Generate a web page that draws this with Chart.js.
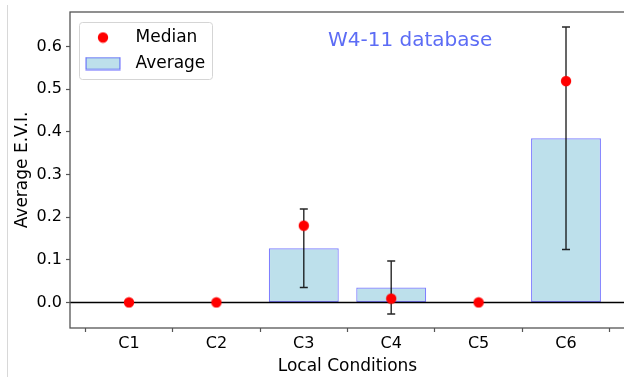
<!DOCTYPE html>
<html>
<head>
<meta charset="utf-8">
<script src="https://cdn.jsdelivr.net/npm/chart.js@4/dist/chart.umd.min.js"></script>
<style>
  html, body { margin: 0; padding: 0; background: #fff; overflow: hidden; }
  #wrap { position: relative; width: 624px; height: 377px; overflow: hidden; }
  #edge { position: absolute; left: 7px; top: 5px; width: 1px; height: 372px; background: #d8d8d8; }
  #chart { position: absolute; left: 0; top: 0; }
</style>
</head>
<body>
<div id="wrap">
  <div id="edge"></div>
  <canvas id="chart" width="640" height="377"></canvas>
</div>
<script>
// local conditions and the E.V.I. statistics per condition
const categories = ['C1', 'C2', 'C3', 'C4', 'C5', 'C6'];
const averages = [0, 0, 0.127, 0.035, 0, 0.385];
const errors = [0, 0, 0.092, 0.062, 0, 0.261];
const medians = [0, 0, 0.180, 0.009, 0, 0.519];
const yTicks = [0, 0.1, 0.2, 0.3, 0.4, 0.5, 0.6];

const FONT = 'DejaVu Sans';
const SPINE = '#555';

// little swatches for the legend entries
const makeSwatch = (w, h, draw) => {
    const c = document.createElement('canvas');
    c.width = w; c.height = h;
    draw(c.getContext('2d'));
    return c;
};
const dotSwatch = makeSwatch(12, 12, g => {
    g.fillStyle = '#ff0000';
    g.beginPath(); g.arc(6, 6, 5.2, 0, Math.PI * 2); g.fill();
});
const rectSwatch = makeSwatch(36, 14, g => {
    g.fillStyle = 'rgba(173,216,230,0.8)';
    g.fillRect(1, 1, 34, 12);
    g.strokeStyle = 'rgba(0,0,255,0.5)';
    g.lineWidth = 1.2;
    g.strokeRect(1, 1, 34, 12);
});

// zero line + error bars go under the median dots
const errorBars = {
    id: 'errorBars',
    beforeDatasetDraw(chart, args) {
        if (args.index !== 0) return;
        const { ctx, chartArea, scales: { x, y } } = chart;
        ctx.save();
        ctx.strokeStyle = '#000';
        ctx.lineWidth = 1.5;
        const y0 = y.getPixelForValue(0);
        ctx.beginPath(); ctx.moveTo(chartArea.left, y0); ctx.lineTo(chartArea.right, y0); ctx.stroke();

        ctx.strokeStyle = 'rgba(0,0,0,0.85)';
        ctx.lineWidth = 1.4;
        averages.forEach((avg, i) => {
            if (!errors[i]) return;
            const px = x.getPixelForValue(i);
            const top = y.getPixelForValue(avg + errors[i]);
            const bot = y.getPixelForValue(avg - errors[i]);
            ctx.beginPath();
            ctx.moveTo(px, top); ctx.lineTo(px, bot);
            ctx.moveTo(px - 4, top); ctx.lineTo(px + 4, top);
            ctx.moveTo(px - 4, bot); ctx.lineTo(px + 4, bot);
            ctx.stroke();
        });
        ctx.restore();
    }
};

// axes frame, legend frame and the database label
const decorations = {
    id: 'decorations',
    afterLayout(chart) {
        // put the legend at the top-left corner inside the plot
        const lg = chart.legend;
        const dy = 20 - lg.top;
        lg.top += dy;
        lg.bottom += dy;
    },
    beforeDraw(chart) {
        const { ctx } = chart;
        const l = 79, t = 22, r = 212, b = 79;
        ctx.save();
        ctx.fillStyle = '#fff';
        ctx.strokeStyle = '#d5d5d5';
        ctx.lineWidth = 1;
        ctx.beginPath();
        ctx.roundRect(l + 0.5, t + 0.5, r - l, b - t, 3);
        ctx.fill();
        ctx.stroke();
        ctx.restore();
    },
    afterDraw(chart) {
        const { ctx, chartArea: a } = chart;
        ctx.save();
        ctx.strokeStyle = SPINE;
        ctx.lineWidth = 1.3;
        ctx.strokeRect(a.left, a.top, a.right - a.left, a.bottom - a.top);

        ctx.fillStyle = '#5c6cf5';
        ctx.font = '20px "' + FONT + '"';
        ctx.textBaseline = 'alphabetic';
        ctx.fillText('W4-11 database', 328, 46);
        ctx.restore();
    }
};

new Chart(document.getElementById('chart'), {
    type: 'bar',
    data: {
        datasets: [
            {
                type: 'scatter',
                label: 'Median',
                data: medians.map((v, i) => ({ x: i, y: v })),
                backgroundColor: '#ff0000',
                borderColor: '#ff0000',
                pointRadius: 5.2,
                pointHoverRadius: 5.2,
                pointStyle: dotSwatch,
                order: 0
            },
            {
                type: 'bar',
                label: 'Average',
                data: averages.map((v, i) => ({ x: i, y: v })),
                backgroundColor: 'rgba(173,216,230,0.8)',
                borderColor: 'rgba(0,0,255,0.5)',
                borderWidth: 1.2,
                borderSkipped: false,
                barPercentage: 0.8,
                categoryPercentage: 1,
                pointStyle: rectSwatch,
                order: 1
            }
        ]
    },
    options: {
        responsive: false,
        animation: false,
        layout: { padding: { left: 0, top: 12, right: 15, bottom: 0 } },
        plugins: {
            tooltip: { enabled: false },
            legend: {
                position: 'chartArea',
                align: 'start',
                labels: {
                    usePointStyle: true,
                    pointStyleWidth: 48,
                    boxHeight: 14,
                    padding: 9,
                    color: '#000',
                    font: { family: FONT, size: 17 }
                }
            }
        },
        scales: {
            x: {
                type: 'linear',
                offset: false,
                min: -0.675,
                max: 5.675,
                afterBuildTicks: s => { s.ticks = categories.map((c, i) => ({ value: i })); },
                afterFit: s => { s.height = 49; s.paddingLeft = 0; s.paddingRight = 0; },
                ticks: {
                    color: '#000',
                    padding: 2,
                    maxRotation: 0,
                    font: { family: FONT, size: 16 },
                    callback: v => categories[v]
                },
                grid: { color: 'transparent', drawTicks: true, tickLength: 4, tickColor: SPINE, tickWidth: 1.2 },
                border: { display: false },
                title: {
                    display: true,
                    text: 'Local Conditions',
                    color: '#000',
                    padding: { top: 0, bottom: 0 },
                    font: { family: FONT, size: 17 }
                }
            },
            y: {
                min: -0.06,
                max: 0.681,
                afterBuildTicks: s => { s.ticks = yTicks.map(v => ({ value: v })); },
                afterFit: s => { s.width = 70; s.paddingTop = 0; s.paddingBottom = 0; },
                ticks: {
                    color: '#000',
                    padding: 4,
                    font: { family: FONT, size: 16 },
                    callback: v => v.toFixed(1)
                },
                grid: { color: 'transparent', drawTicks: true, tickLength: 4, tickColor: SPINE, tickWidth: 1.2 },
                border: { display: false },
                title: {
                    display: true,
                    text: 'Average E.V.I.',
                    color: '#000',
                    padding: { top: 12, bottom: 0 },
                    font: { family: FONT, size: 17 }
                }
            }
        }
    },
    plugins: [errorBars, decorations]
});
</script>
</body>
</html>
